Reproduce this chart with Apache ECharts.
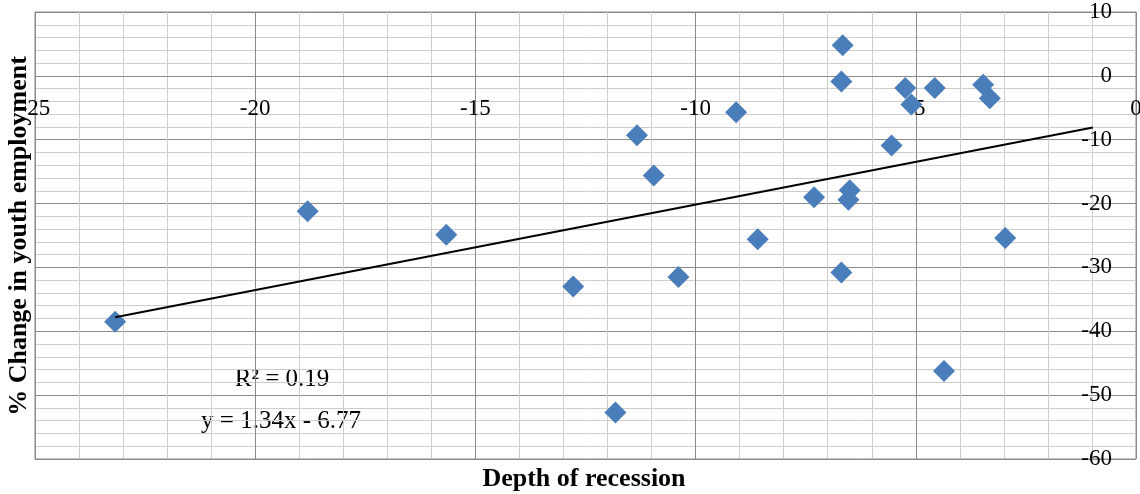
<!DOCTYPE html>
<html>
<head>
<meta charset="utf-8">
<script src="https://cdn.jsdelivr.net/npm/echarts@6/dist/echarts.min.js"></script>
<style>
  html, body { margin: 0; padding: 0; background: #ffffff; }
  #chart { width: 1140px; height: 494px; }
</style>
</head>
<body>
<div id="chart"></div>
<script>
// ---- Data ----
const depthOfRecession = [-23.18, -18.81, -15.66, -12.78, -11.82, -11.33, -10.95, -10.39, -9.08, -8.59, -7.31, -6.66, -6.69, -6.69, -6.50, -6.53, -5.55, -5.24, -5.10, -4.57, -4.36, -3.47, -3.32, -2.97];
const youthEmploymentChange = [-38.5, -21.2, -24.9, -33.0, -52.7, -9.3, -15.6, -31.5, -5.7, -25.6, -19.0, 4.8, -0.9, -30.8, -17.9, -19.4, -10.9, -1.9, -4.5, -1.9, -46.2, -1.4, -3.5, -25.4];
const trendX = [-23.18, -0.98];
const trendY = [-37.8, -8.1];
const xTitle = 'Depth of recession';
const yTitle = '% Change in youth employment';
const rSquaredText = 'R² = 0.19';
const equationText = 'y = 1.34x - 6.77';

// ---- Chart ----
const chart = echarts.init(document.getElementById('chart'), null, { renderer: 'canvas' });
const serif = '"Liberation Serif", "Times New Roman", serif';
const majorColor = '#8a8a8a';
const minorColor = '#cdcdcd';

const gridTop = 12, gridBottom = 35, chartH = 494;
const yMin = -60, yMax = 10;
// x axis crosses the y axis at y = 0: shift it up from the bottom edge of the plot
const plotH = chartH - gridTop - gridBottom;
const xAxisOffset = -plotH * (0 - yMin) / (yMax - yMin);

const points = depthOfRecession.map((x, i) => [x, youthEmploymentChange[i]]);
const trend = trendX.map((x, i) => [x, trendY[i]]);

chart.setOption({
  animation: false,
  backgroundColor: '#ffffff',
  grid: {
    left: 35, right: 4, top: gridTop, bottom: gridBottom,
    outerBoundsMode: 'none',
    containLabel: false,
    show: true, borderColor: majorColor, borderWidth: 1, backgroundColor: 'transparent'
  },
  xAxis: {
    type: 'value',
    position: 'bottom',
    offset: xAxisOffset,
    min: -25, max: 0, interval: 5,
    axisLine: { show: true, onZero: false, lineStyle: { color: majorColor, width: 1 } },
    axisTick: { show: false },
    minorTick: { show: false, splitNumber: 5 },
    splitLine: { show: true, lineStyle: { color: majorColor, width: 1 } },
    minorSplitLine: { show: true, lineStyle: { color: minorColor, width: 1 } },
    axisLabel: {
      show: true, margin: 22, color: '#000', fontFamily: serif, fontSize: 23,
      showMinLabel: true, showMaxLabel: true
    }
  },
  yAxis: {
    type: 'value',
    position: 'right',
    min: yMin, max: yMax, interval: 10,
    axisLine: { show: false, onZero: false },
    axisTick: { show: false },
    minorTick: { show: false, splitNumber: 5 },
    splitLine: { show: true, lineStyle: { color: majorColor, width: 1 } },
    minorSplitLine: { show: true, lineStyle: { color: minorColor, width: 1 } },
    axisLabel: {
      show: true, inside: true, margin: 24, color: '#000', fontFamily: serif, fontSize: 23,
      showMinLabel: true, showMaxLabel: true
    }
  },
  series: [
    {
      type: 'scatter',
      data: points,
      symbol: 'diamond',
      symbolSize: 22,
      itemStyle: { color: '#4a7ebb', opacity: 1 },
      z: 2
    },
    {
      type: 'line',
      data: trend,
      symbol: 'none',
      lineStyle: { color: '#000000', width: 2 },
      z: 3,
      silent: true
    }
  ],
  graphic: [
    {
      type: 'text', x: 584, y: 479,
      style: { text: xTitle, fontFamily: serif, fontSize: 26, fontWeight: 'bold', fill: '#000', textAlign: 'center', textVerticalAlign: 'middle' }
    },
    {
      type: 'text', x: 19, y: 236, rotation: Math.PI / 2,
      style: { text: yTitle, fontFamily: serif, fontSize: 26, fontWeight: 'bold', fill: '#000', textAlign: 'center', textVerticalAlign: 'middle' }
    },
    {
      type: 'text', x: 282, y: 379,
      style: { text: rSquaredText, fontFamily: serif, fontSize: 25, fill: '#000', textAlign: 'center', textVerticalAlign: 'middle' }
    },
    {
      type: 'text', x: 281, y: 421,
      style: { text: equationText, fontFamily: serif, fontSize: 25, fill: '#000', textAlign: 'center', textVerticalAlign: 'middle' }
    }
  ]
});
</script>
</body>
</html>
